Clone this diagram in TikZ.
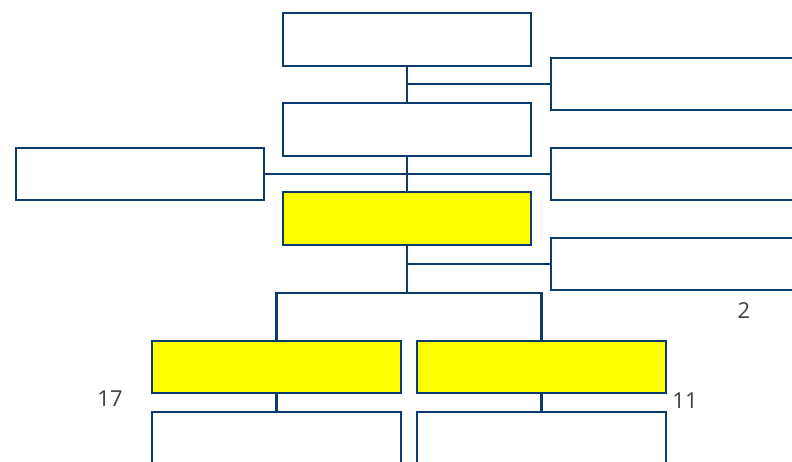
\documentclass[tikz,border=0pt]{standalone}
\usepackage{fontspec}
\setmainfont{Open Sans}
\begin{document}
\begin{tikzpicture}[x=1pt,y=-1pt,
  box/.style={draw=navy,line width=2.3pt,fill=white,inner sep=0pt,minimum width=248pt,minimum height=53pt},
  wbox/.style={box,minimum width=270pt,minimum height=52pt},
  hl/.style={box,fill=hlyellow},
  conn/.style={draw=navy,line width=2.3pt},
  num/.style={text=numgray,font=\fontsize{22}{25}\selectfont,inner sep=0pt}]
\definecolor{navy}{HTML}{0F3A6E}
\definecolor{hlyellow}{HTML}{FFFF00}
\definecolor{numgray}{HTML}{404040}
\useasboundingbox (0,0) rectangle (792,462);
\clip (0,0) rectangle (792,462);
% boxes
\node[box] (top) at (407,39.5) {};
\node[wbox,anchor=west] (r1) at (550,84) {};
\node[box] (b2) at (407,129.5) {};
\node[box,minimum height=52pt] (l) at (140,174) {};
\node[wbox,anchor=west] (r2) at (550,174) {};
\node[hl] (yc) at (407,218.5) {};
\node[wbox,anchor=west] (r3) at (550,264) {};
\node[hl,minimum width=249pt,minimum height=52pt] (yl) at (276.5,367) {};
\node[hl,minimum width=249pt,minimum height=52pt] (yr) at (541.5,367) {};
\node[box,minimum width=249pt,minimum height=80pt,anchor=north] (wl) at (276.5,411) {};
\node[box,minimum width=249pt,minimum height=80pt,anchor=north] (wr) at (541.5,411) {};
\coordinate (bus) at (407,293);
% connectors
\draw[conn] (top.south) -- (b2.north);
\draw[conn] (top.south |- r1.west) -- (r1.west);
\draw[conn] (b2.south) -- (yc.north);
\draw[conn] (l.east) -- (r2.west);
\draw[conn] (yc.south) -- (bus);
\draw[conn] (yc.south |- r3.west) -- (r3.west);
\draw[conn] (yl.north) |- (bus) -| (yr.north);
\draw[conn] (yl.south) -- (wl.north);
\draw[conn] (yr.south) -- (wr.north);
% numbers
\node[num] (n17) at (110,399) {17};
\node[num] (n2) at (744,311) {2};
\node[num] (n11) at (685,401) {11};
\end{tikzpicture}
\end{document}
